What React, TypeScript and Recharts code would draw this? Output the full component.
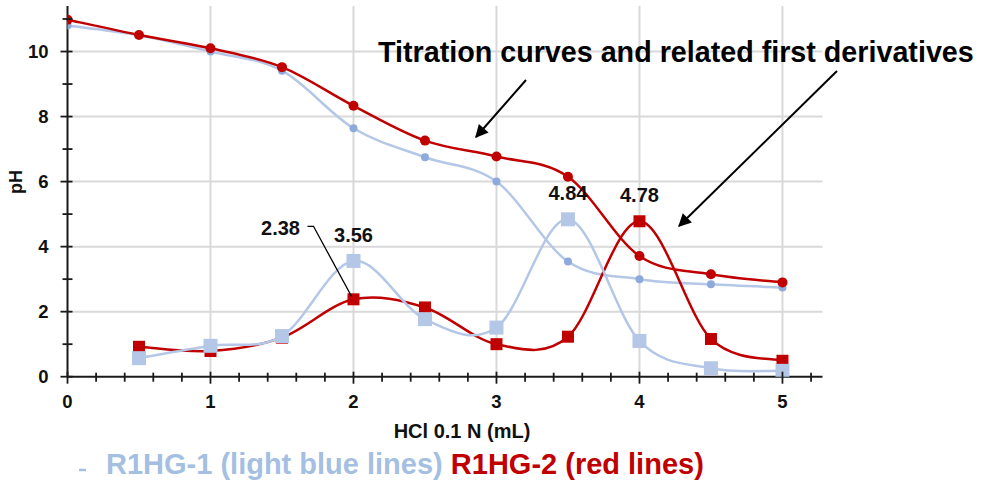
import React from "react";
import { ComposedChart, Line, XAxis, YAxis, CartesianGrid, LabelList } from "recharts";

// HCl 0.1 N added (mL)
const xValues = [0, 0.5, 1, 1.5, 2, 2.5, 3, 3.5, 4, 4.5, 5];
// titration curves (pH)
const phBlue = [10.8, 10.5, 10.0, 9.41, 7.64, 6.75, 6.0, 3.54, 3.0, 2.84, 2.74];
const phRed = [10.98, 10.51, 10.1, 9.52, 8.33, 7.26, 6.77, 6.15, 3.71, 3.15, 2.9];
// first derivatives
const derivBlue = [null, 0.57, 0.95, 1.25, 3.56, 1.77, 1.51, 4.84, 1.1, 0.26, 0.18];
const derivRed = [null, 0.92, 0.79, 1.2, 2.38, 2.13, 1.0, 1.23, 4.78, 1.16, 0.49];
const peaksBlue = [3.56, 4.84];
const peaksRed = [2.38, 4.78];

const xTicks = [0, 0.2, 0.4, 0.6, 0.8, 1, 1.2, 1.4, 1.6, 1.8, 2, 2.2, 2.4, 2.6, 2.8, 3, 3.2, 3.4, 3.6, 3.8, 4, 4.2, 4.4, 4.6, 4.8, 5, 5.2];
const yTicks = [0, 1, 2, 3, 4, 5, 6, 7, 8, 9, 10, 11];
const gridX = [1, 2, 3, 4, 5];
const gridY = [2, 4, 6, 8, 10];

const RED = "#c00000";
const BLUE_LINE = "#b4c7e7";
const BLUE_DOT = "#8eaadb";
const BLUE_TEXT = "#a4bfe2";
const AXIS = "#1a1a1a";
const FONT = "'Liberation Sans', Arial, sans-serif";

const rows = xValues.map((x, i) => ({
  x,
  phBlue: phBlue[i],
  phRed: phRed[i],
  derivBlue: derivBlue[i],
  derivRed: derivRed[i],
}));

// Excel-like smoothed line (catmull-rom style bezier)
const smoothCurve = (ctx: any) => {
  let pts: number[][] = [];
  return {
    areaStart() {},
    areaEnd() {},
    lineStart() {
      pts = [];
    },
    point(x: number, y: number) {
      pts.push([+x, +y]);
    },
    lineEnd() {
      if (!pts.length) return;
      ctx.moveTo(pts[0][0], pts[0][1]);
      for (let i = 0; i < pts.length - 1; i++) {
        const p0 = pts[Math.max(i - 1, 0)];
        const p1 = pts[i];
        const p2 = pts[i + 1];
        const p3 = pts[Math.min(i + 2, pts.length - 1)];
        ctx.bezierCurveTo(
          p1[0] + (p2[0] - p0[0]) / 6,
          p1[1] + (p2[1] - p0[1]) / 6,
          p2[0] - (p3[0] - p1[0]) / 6,
          p2[1] - (p3[1] - p1[1]) / 6,
          p2[0],
          p2[1]
        );
      }
    },
  };
};

function XTick(props: any) {
  const { x, y, payload } = props;
  const v = payload.value;
  const major = Math.abs(v - Math.round(v)) < 1e-6;
  return (
    <g>
      <line x1={x} x2={x} y1={y - (major ? 5 : 4)} y2={y + (major ? 7 : 5)} stroke={AXIS} strokeWidth={1.8} />
      {major && (
        <text x={x} y={y + 31} textAnchor="middle" fontSize={18.5} fontWeight="bold" fontFamily={FONT} fill="#111">
          {v}
        </text>
      )}
    </g>
  );
}

function YTick(props: any) {
  const { x, y, payload } = props;
  const v = payload.value;
  const major = v % 2 === 0;
  return (
    <g>
      <line x1={x - (major ? 7 : 5)} x2={x + 5} y1={y} y2={y} stroke={AXIS} strokeWidth={1.8} />
      {major && (
        <text x={x - 19} y={y} dy="0.36em" textAnchor="end" fontSize={18.5} fontWeight="bold" fontFamily={FONT} fill="#111">
          {v}
        </text>
      )}
    </g>
  );
}

const squareDot = (fill: string, size: number) => (p: any) => {
  if (p.cy == null || p.value == null) return <g key={p.index} />;
  return <rect key={p.index} x={p.cx - size / 2} y={p.cy - size / 2} width={size} height={size} fill={fill} />;
};

const peakLabel = (peaks: number[]) => (p: any) => {
  const { x, y, value } = p;
  if (value == null || !peaks.includes(value)) return null;
  const txt = Number(value).toFixed(2);
  if (value === 2.38) {
    return (
      <g>
        <polyline
          points={`${x - 46},${y - 73} ${x - 40},${y - 73} ${x - 2},${y - 3}`}
          fill="none"
          stroke="#000"
          strokeWidth={1.3}
        />
        <text x={x - 73} y={y - 64} textAnchor="middle" fontSize={20} fontWeight="bold" fontFamily={FONT} fill="#111">
          {txt}
        </text>
      </g>
    );
  }
  return (
    <text x={x} y={y - 19} textAnchor="middle" fontSize={20} fontWeight="bold" fontFamily={FONT} fill="#111">
      {txt}
    </text>
  );
};

export default function App() {
  return (
    <div style={{ position: "absolute", left: 0, top: 0, width: 988, height: 481, background: "#fff" }}>
      <ComposedChart
        width={988}
        height={481}
        data={rows}
        margin={{ top: 6, right: 165.5, bottom: 74.3, left: 7.5 }}
      >
        <CartesianGrid stroke="#d9d9d9" strokeWidth={2} horizontalValues={gridY} verticalValues={gridX} />
        <XAxis
          type="number"
          dataKey="x"
          domain={[0, 5.28]}
          ticks={xTicks}
          interval={0}
          allowDataOverflow
          tickSize={0}
          tickMargin={0}
          tickLine={false}
          tick={<XTick />}
          axisLine={{ stroke: AXIS, strokeWidth: 2 }}
          height={30}
        />
        <YAxis
          type="number"
          domain={[0, 11.4]}
          ticks={yTicks}
          interval={0}
          allowDataOverflow
          tickSize={0}
          tickMargin={0}
          tickLine={false}
          tick={<YTick />}
          axisLine={{ stroke: AXIS, strokeWidth: 2 }}
          width={60}
        />
        <Line
          dataKey="phBlue"
          type={smoothCurve as any}
          stroke={BLUE_LINE}
          strokeWidth={2.5}
          dot={{ r: 4, fill: BLUE_DOT, stroke: BLUE_DOT, strokeWidth: 0 }}
          isAnimationActive={false}
        />
        <Line
          dataKey="derivRed"
          type={smoothCurve as any}
          stroke={RED}
          strokeWidth={2.5}
          dot={squareDot(RED, 12)}
          isAnimationActive={false}
        >
          <LabelList dataKey="derivRed" content={peakLabel(peaksRed)} />
        </Line>
        <Line
          dataKey="derivBlue"
          type={smoothCurve as any}
          stroke={BLUE_LINE}
          strokeWidth={2.5}
          dot={squareDot(BLUE_LINE, 14)}
          isAnimationActive={false}
        >
          <LabelList dataKey="derivBlue" content={peakLabel(peaksBlue)} />
        </Line>
        <Line
          dataKey="phRed"
          type={smoothCurve as any}
          stroke={RED}
          strokeWidth={2.5}
          dot={{ r: 5, fill: RED, stroke: RED, strokeWidth: 0 }}
          isAnimationActive={false}
        />
      </ComposedChart>

      {/* title, arrows, axis titles and legend text */}
      <svg width={988} height={481} style={{ position: "absolute", left: 0, top: 0, pointerEvents: "none" }}>
        <defs>
          <marker id="ah" viewBox="0 0 10 10" refX="9" refY="5" markerWidth="7.5" markerHeight="6.5" orient="auto">
            <path d="M0,0 L10,5 L0,10 z" fill="#000" />
          </marker>
        </defs>
        <text x={378} y={61.5} fontSize={28.7} fontWeight="bold" fontFamily={FONT} fill="#000">
          Titration curves and related first derivatives
        </text>
        <line x1={526} y1={80} x2={476} y2={137} stroke="#000" strokeWidth={2} markerEnd="url(#ah)" />
        <line x1={837} y1={71} x2={679} y2={226} stroke="#000" strokeWidth={2} markerEnd="url(#ah)" />
        <text transform="translate(22,182) rotate(-90)" textAnchor="middle" fontSize={18} fontWeight="bold" fontFamily={FONT} fill="#111">
          pH
        </text>
        <text x={462} y={438} textAnchor="middle" fontSize={20} fontWeight="bold" fontFamily={FONT} fill="#111">
          HCl 0.1 N (mL)
        </text>
        <line x1={79} x2={86} y1={470} y2={470} stroke={BLUE_TEXT} strokeWidth={2.5} />
        <text x={106} y={474} fontSize={29} fontWeight="bold" fontFamily={FONT}>
          <tspan fill={BLUE_TEXT}>R1HG-1 (light blue lines)</tspan>
          <tspan fill={RED}> R1HG-2 (red lines)</tspan>
        </text>
      </svg>
    </div>
  );
}
